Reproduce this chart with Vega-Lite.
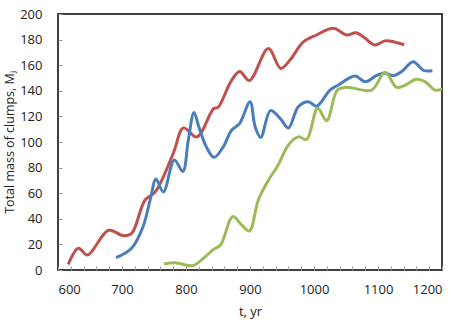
{
  "$schema": "https://vega.github.io/schema/vega-lite/v6.json",
  "width": 384,
  "height": 256,
  "autosize": {"type": "none"},
  "padding": {"left": 58, "top": 14, "right": 26, "bottom": 50},
  "background": "white",
  "config": {
    "view": {"stroke": "#404040", "strokeWidth": 2},
    "font": "Open Sans"
  },
  "data": {
    "values": [
      {"s": "red", "t": 616, "m": 4.4},
      {"s": "red", "t": 632, "m": 17},
      {"s": "red", "t": 646, "m": 11.7},
      {"s": "red", "t": 679, "m": 31},
      {"s": "red", "t": 702, "m": 26.8},
      {"s": "red", "t": 715, "m": 28.6},
      {"s": "red", "t": 736, "m": 54.7},
      {"s": "red", "t": 752, "m": 61},
      {"s": "red", "t": 780, "m": 91},
      {"s": "red", "t": 796, "m": 111},
      {"s": "red", "t": 817, "m": 104},
      {"s": "red", "t": 843, "m": 126},
      {"s": "red", "t": 850, "m": 127},
      {"s": "red", "t": 871, "m": 148},
      {"s": "red", "t": 884, "m": 155},
      {"s": "red", "t": 899, "m": 148},
      {"s": "red", "t": 928.6, "m": 173},
      {"s": "red", "t": 948, "m": 157.5},
      {"s": "red", "t": 962.5, "m": 164},
      {"s": "red", "t": 983, "m": 178},
      {"s": "red", "t": 1004, "m": 183.6},
      {"s": "red", "t": 1030, "m": 188.8},
      {"s": "red", "t": 1051, "m": 183.6},
      {"s": "red", "t": 1066, "m": 185.4},
      {"s": "red", "t": 1080, "m": 181},
      {"s": "red", "t": 1095, "m": 175.8},
      {"s": "red", "t": 1111, "m": 179},
      {"s": "red", "t": 1127, "m": 178},
      {"s": "red", "t": 1141, "m": 176},
      {"s": "blue", "t": 690.6, "m": 9.6},
      {"s": "blue", "t": 715, "m": 17},
      {"s": "blue", "t": 733, "m": 34},
      {"s": "blue", "t": 745, "m": 57},
      {"s": "blue", "t": 753, "m": 71},
      {"s": "blue", "t": 764.6, "m": 61},
      {"s": "blue", "t": 781.8, "m": 86},
      {"s": "blue", "t": 795, "m": 77},
      {"s": "blue", "t": 803.6, "m": 101.6},
      {"s": "blue", "t": 812.5, "m": 123},
      {"s": "blue", "t": 820, "m": 112},
      {"s": "blue", "t": 832, "m": 96},
      {"s": "blue", "t": 843.8, "m": 88},
      {"s": "blue", "t": 858, "m": 96},
      {"s": "blue", "t": 871, "m": 109},
      {"s": "blue", "t": 884, "m": 114.6},
      {"s": "blue", "t": 900, "m": 131.5},
      {"s": "blue", "t": 908, "m": 112},
      {"s": "blue", "t": 916.7, "m": 103.6},
      {"s": "blue", "t": 932, "m": 124.5},
      {"s": "blue", "t": 947, "m": 118.5},
      {"s": "blue", "t": 960, "m": 111},
      {"s": "blue", "t": 975.5, "m": 127.6},
      {"s": "blue", "t": 991, "m": 131.5},
      {"s": "blue", "t": 1004, "m": 128},
      {"s": "blue", "t": 1025, "m": 140.6},
      {"s": "blue", "t": 1038, "m": 144.5},
      {"s": "blue", "t": 1064, "m": 151.6},
      {"s": "blue", "t": 1080, "m": 147},
      {"s": "blue", "t": 1098, "m": 152},
      {"s": "blue", "t": 1111, "m": 154},
      {"s": "blue", "t": 1124, "m": 151.8},
      {"s": "blue", "t": 1137, "m": 155},
      {"s": "blue", "t": 1155, "m": 162.7},
      {"s": "blue", "t": 1171, "m": 156},
      {"s": "blue", "t": 1185, "m": 155.7},
      {"s": "green", "t": 765.6, "m": 4.7},
      {"s": "green", "t": 783, "m": 5.7},
      {"s": "green", "t": 811, "m": 3.4},
      {"s": "green", "t": 827, "m": 9.1},
      {"s": "green", "t": 843, "m": 16.1},
      {"s": "green", "t": 854, "m": 19.5},
      {"s": "green", "t": 873, "m": 41.7},
      {"s": "green", "t": 887, "m": 35.2},
      {"s": "green", "t": 899, "m": 30.5},
      {"s": "green", "t": 913, "m": 54.7},
      {"s": "green", "t": 928.6, "m": 70},
      {"s": "green", "t": 944, "m": 82},
      {"s": "green", "t": 960, "m": 97.7},
      {"s": "green", "t": 975.5, "m": 104},
      {"s": "green", "t": 988.5, "m": 102},
      {"s": "green", "t": 1005.7, "m": 126.3},
      {"s": "green", "t": 1019.8, "m": 116.7},
      {"s": "green", "t": 1036.5, "m": 140.6},
      {"s": "green", "t": 1051, "m": 142.7},
      {"s": "green", "t": 1090, "m": 140.6},
      {"s": "green", "t": 1111, "m": 154.4},
      {"s": "green", "t": 1129, "m": 142.7},
      {"s": "green", "t": 1141, "m": 144},
      {"s": "green", "t": 1160, "m": 149},
      {"s": "green", "t": 1174, "m": 147},
      {"s": "green", "t": 1189, "m": 140.6},
      {"s": "green", "t": 1201, "m": 141.4}
    ]
  },
  "mark": {"type": "line", "interpolate": "catmull-rom", "strokeWidth": 3, "clip": true},
  "encoding": {
    "x": {
      "field": "t", "type": "quantitative",
      "scale": {"domain": [600, 1200], "nice": false},
      "axis": {
        "title": "t, yr", "titleFont": "Open Sans", "titleFontSize": 13, "titleFontWeight": "normal", "titleColor": "#222", "titlePadding": 9,
        "values": [600,620,640,660,680,700,720,740,760,780,800,820,840,860,880,900,920,940,960,980,1000,1020,1040,1060,1080,1100,1120,1140,1160,1180,1200],
        "labelExpr": "datum.value % 100 === 0 ? datum.label : ''",
        "format": "d",
        "labelFontSize": 13, "labelColor": "#222", "labelPadding": 17,
        "domain": false, "grid": false,
        "tickSize": -4, "tickColor": "#999", "tickWidth": 1
      }
    },
    "y": {
      "field": "m", "type": "quantitative",
      "scale": {"domain": [0, 200], "nice": false},
      "axis": {
        "title": "Total mass of clumps, Mⱼ", "titleFont": "Open Sans", "titleFontSize": 12.5, "titleFontWeight": "normal", "titleColor": "#222", "titlePadding": 3,
        "values": [0,20,40,60,80,100,120,140,160,180,200],
        "labelFontSize": 13, "labelColor": "#222", "labelPadding": 20,
        "domain": false, "grid": false,
        "tickSize": -4, "tickColor": "#999", "tickWidth": 1
      }
    },
    "color": {
      "field": "s", "type": "nominal",
      "scale": {"domain": ["red", "blue", "green"], "range": ["#c0504d", "#4a7ebb", "#9bbb59"]},
      "legend": null
    }
  }
}
